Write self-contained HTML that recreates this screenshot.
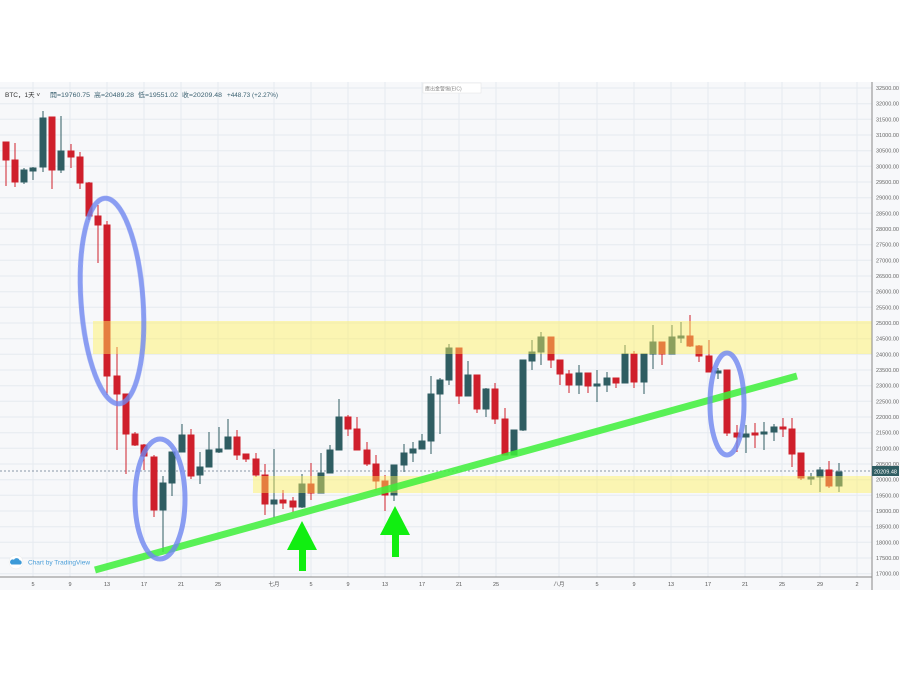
<!DOCTYPE html>
<html><head><meta charset="utf-8"><style>
html,body{margin:0;padding:0;background:#fff;width:900px;height:675px;overflow:hidden}
svg{display:block}
text{font-family:"Liberation Sans","Noto Sans CJK SC",sans-serif}
</style></head><body>
<svg width="900" height="675" viewBox="0 0 900 675" xmlns="http://www.w3.org/2000/svg">
<rect x="0" y="82" width="900" height="508" fill="#f7f8fa"/>
<g stroke="#e6eaf0" stroke-width="1">
<line x1="0" y1="88" x2="872" y2="88"/><line x1="0" y1="103.7" x2="872" y2="103.7"/><line x1="0" y1="119.3" x2="872" y2="119.3"/><line x1="0" y1="135" x2="872" y2="135"/><line x1="0" y1="150.7" x2="872" y2="150.7"/><line x1="0" y1="166.3" x2="872" y2="166.3"/><line x1="0" y1="182" x2="872" y2="182"/><line x1="0" y1="197.7" x2="872" y2="197.7"/><line x1="0" y1="213.3" x2="872" y2="213.3"/><line x1="0" y1="229" x2="872" y2="229"/><line x1="0" y1="244.7" x2="872" y2="244.7"/><line x1="0" y1="260.3" x2="872" y2="260.3"/><line x1="0" y1="276" x2="872" y2="276"/><line x1="0" y1="291.7" x2="872" y2="291.7"/><line x1="0" y1="307.3" x2="872" y2="307.3"/><line x1="0" y1="323" x2="872" y2="323"/><line x1="0" y1="338.7" x2="872" y2="338.7"/><line x1="0" y1="354.3" x2="872" y2="354.3"/><line x1="0" y1="370" x2="872" y2="370"/><line x1="0" y1="385.7" x2="872" y2="385.7"/><line x1="0" y1="401.3" x2="872" y2="401.3"/><line x1="0" y1="417" x2="872" y2="417"/><line x1="0" y1="432.7" x2="872" y2="432.7"/><line x1="0" y1="448.3" x2="872" y2="448.3"/><line x1="0" y1="464" x2="872" y2="464"/><line x1="0" y1="479.7" x2="872" y2="479.7"/><line x1="0" y1="495.3" x2="872" y2="495.3"/><line x1="0" y1="511" x2="872" y2="511"/><line x1="0" y1="526.7" x2="872" y2="526.7"/><line x1="0" y1="542.3" x2="872" y2="542.3"/><line x1="0" y1="558" x2="872" y2="558"/><line x1="0" y1="573.7" x2="872" y2="573.7"/>
<line x1="33" y1="82" x2="33" y2="577"/><line x1="70" y1="82" x2="70" y2="577"/><line x1="107" y1="82" x2="107" y2="577"/><line x1="144" y1="82" x2="144" y2="577"/><line x1="181" y1="82" x2="181" y2="577"/><line x1="218" y1="82" x2="218" y2="577"/><line x1="274" y1="82" x2="274" y2="577"/><line x1="311" y1="82" x2="311" y2="577"/><line x1="348" y1="82" x2="348" y2="577"/><line x1="385" y1="82" x2="385" y2="577"/><line x1="422" y1="82" x2="422" y2="577"/><line x1="459" y1="82" x2="459" y2="577"/><line x1="496" y1="82" x2="496" y2="577"/><line x1="559" y1="82" x2="559" y2="577"/><line x1="597" y1="82" x2="597" y2="577"/><line x1="634" y1="82" x2="634" y2="577"/><line x1="671" y1="82" x2="671" y2="577"/><line x1="708" y1="82" x2="708" y2="577"/><line x1="745" y1="82" x2="745" y2="577"/><line x1="782" y1="82" x2="782" y2="577"/><line x1="820" y1="82" x2="820" y2="577"/><line x1="857" y1="82" x2="857" y2="577"/>
</g>
<line x1="0" y1="471" x2="872" y2="471" stroke="#8a98a8" stroke-width="1" stroke-dasharray="2,2"/>

<g id="candles">
<g fill="#cf1f2b" stroke="#cf1f2b" stroke-width="1">
<line x1="6" y1="142" x2="6" y2="186"/><rect x="3" y="142" width="6" height="18"/>
<line x1="15" y1="143" x2="15" y2="187"/><rect x="12" y="160" width="6" height="22"/>
<line x1="52" y1="117" x2="52" y2="189"/><rect x="49" y="117" width="6" height="53"/>
<line x1="71" y1="144" x2="71" y2="168"/><rect x="68" y="151" width="6" height="6"/>
<line x1="80" y1="152" x2="80" y2="189"/><rect x="77" y="157" width="6" height="26"/>
<line x1="89" y1="182" x2="89" y2="220"/><rect x="86" y="183" width="6" height="33"/>
<line x1="98" y1="205" x2="98" y2="263"/><rect x="95" y="216" width="6" height="9"/>
<line x1="107" y1="221" x2="107" y2="395"/><rect x="104" y="225" width="6" height="151"/>
<line x1="117" y1="347" x2="117" y2="450"/><rect x="114" y="376" width="6" height="18"/>
<line x1="126" y1="395" x2="126" y2="474"/><rect x="123" y="394" width="6" height="40"/>
<line x1="135" y1="432" x2="135" y2="446"/><rect x="132" y="434" width="6" height="11"/>
<line x1="144" y1="444" x2="144" y2="470"/><rect x="141" y="445" width="6" height="11"/>
<line x1="154" y1="455" x2="154" y2="517"/><rect x="151" y="457" width="6" height="53"/>
<line x1="191" y1="429" x2="191" y2="479"/><rect x="188" y="435" width="6" height="41"/>
<line x1="237" y1="430" x2="237" y2="460"/><rect x="234" y="437" width="6" height="18"/>
<line x1="246" y1="454" x2="246" y2="462"/><rect x="243" y="454" width="6" height="5"/>
<line x1="256" y1="453" x2="256" y2="477"/><rect x="253" y="459" width="6" height="16"/>
<line x1="265" y1="464" x2="265" y2="515"/><rect x="262" y="475" width="6" height="29"/>
<line x1="283" y1="490" x2="283" y2="509"/><rect x="280" y="500" width="6" height="3"/>
<line x1="293" y1="497" x2="293" y2="512"/><rect x="290" y="501" width="6" height="6"/>
<line x1="311" y1="463" x2="311" y2="500"/><rect x="308" y="484" width="6" height="9"/>
<line x1="348" y1="415" x2="348" y2="436"/><rect x="345" y="417" width="6" height="12"/>
<line x1="357" y1="417" x2="357" y2="450"/><rect x="354" y="429" width="6" height="21"/>
<line x1="367" y1="442" x2="367" y2="466"/><rect x="364" y="450" width="6" height="14"/>
<line x1="376" y1="455" x2="376" y2="490"/><rect x="373" y="464" width="6" height="17"/>
<line x1="385" y1="475" x2="385" y2="511"/><rect x="382" y="481" width="6" height="14"/>
<line x1="459" y1="348" x2="459" y2="404"/><rect x="456" y="348" width="6" height="48"/>
<line x1="477" y1="375" x2="477" y2="413"/><rect x="474" y="375" width="6" height="34"/>
<line x1="495" y1="383" x2="495" y2="424"/><rect x="492" y="389" width="6" height="30"/>
<line x1="505" y1="408" x2="505" y2="455"/><rect x="502" y="419" width="6" height="36"/>
<line x1="551" y1="337" x2="551" y2="368"/><rect x="548" y="337" width="6" height="23"/>
<line x1="560" y1="360" x2="560" y2="385"/><rect x="557" y="360" width="6" height="14"/>
<line x1="569" y1="370" x2="569" y2="393"/><rect x="566" y="374" width="6" height="11"/>
<line x1="588" y1="373" x2="588" y2="393"/><rect x="585" y="373" width="6" height="13"/>
<line x1="616" y1="378" x2="616" y2="388"/><rect x="613" y="378" width="6" height="5"/>
<line x1="634" y1="351" x2="634" y2="388"/><rect x="631" y="354" width="6" height="28"/>
<line x1="662" y1="342" x2="662" y2="365"/><rect x="659" y="342" width="6" height="12"/>
<line x1="690" y1="315" x2="690" y2="347"/><rect x="687" y="336" width="6" height="10"/>
<line x1="699" y1="345" x2="699" y2="362"/><rect x="696" y="346" width="6" height="10"/>
<line x1="709" y1="340" x2="709" y2="372"/><rect x="706" y="356" width="6" height="16"/>
<line x1="727" y1="370" x2="727" y2="436"/><rect x="724" y="370" width="6" height="63"/>
<line x1="737" y1="425" x2="737" y2="452"/><rect x="734" y="433" width="6" height="4"/>
<line x1="755" y1="423" x2="755" y2="448"/><rect x="752" y="433" width="6" height="2"/>
<line x1="783" y1="418" x2="783" y2="437"/><rect x="780" y="427" width="6" height="2"/>
<line x1="792" y1="418" x2="792" y2="467"/><rect x="789" y="429" width="6" height="25"/>
<line x1="801" y1="453" x2="801" y2="480"/><rect x="798" y="453" width="6" height="25"/>
<line x1="829" y1="461" x2="829" y2="488"/><rect x="826" y="470" width="6" height="16"/>
</g>
<g fill="#2f5d62" stroke="#2f5d62" stroke-width="1">
<line x1="24" y1="168" x2="24" y2="184"/><rect x="21" y="170" width="6" height="12"/>
<line x1="33" y1="167" x2="33" y2="180"/><rect x="30" y="168" width="6" height="3"/>
<line x1="43" y1="111" x2="43" y2="172"/><rect x="40" y="118" width="6" height="49"/>
<line x1="61" y1="116" x2="61" y2="173"/><rect x="58" y="151" width="6" height="19"/>
<line x1="163" y1="476" x2="163" y2="552"/><rect x="160" y="483" width="6" height="27"/>
<line x1="172" y1="452" x2="172" y2="496"/><rect x="169" y="452" width="6" height="31"/>
<line x1="182" y1="424" x2="182" y2="452"/><rect x="179" y="435" width="6" height="17"/>
<line x1="200" y1="452" x2="200" y2="484"/><rect x="197" y="467" width="6" height="8"/>
<line x1="209" y1="432" x2="209" y2="467"/><rect x="206" y="450" width="6" height="17"/>
<line x1="219" y1="427" x2="219" y2="453"/><rect x="216" y="449" width="6" height="3"/>
<line x1="228" y1="419" x2="228" y2="449"/><rect x="225" y="437" width="6" height="12"/>
<line x1="274" y1="449" x2="274" y2="518"/><rect x="271" y="500" width="6" height="4"/>
<line x1="302" y1="474" x2="302" y2="508"/><rect x="299" y="484" width="6" height="23"/>
<line x1="321" y1="453" x2="321" y2="493"/><rect x="318" y="473" width="6" height="20"/>
<line x1="330" y1="445" x2="330" y2="473"/><rect x="327" y="450" width="6" height="23"/>
<line x1="339" y1="399" x2="339" y2="450"/><rect x="336" y="417" width="6" height="33"/>
<line x1="394" y1="465" x2="394" y2="501"/><rect x="391" y="465" width="6" height="30"/>
<line x1="404" y1="444" x2="404" y2="472"/><rect x="401" y="453" width="6" height="12"/>
<line x1="413" y1="442" x2="413" y2="462"/><rect x="410" y="449" width="6" height="4"/>
<line x1="422" y1="434" x2="422" y2="449"/><rect x="419" y="441" width="6" height="8"/>
<line x1="431" y1="376" x2="431" y2="454"/><rect x="428" y="394" width="6" height="47"/>
<line x1="440" y1="378" x2="440" y2="434"/><rect x="437" y="380" width="6" height="14"/>
<line x1="449" y1="344" x2="449" y2="385"/><rect x="446" y="348" width="6" height="32"/>
<line x1="468" y1="361" x2="468" y2="396"/><rect x="465" y="375" width="6" height="21"/>
<line x1="486" y1="388" x2="486" y2="417"/><rect x="483" y="389" width="6" height="20"/>
<line x1="514" y1="430" x2="514" y2="455"/><rect x="511" y="430" width="6" height="25"/>
<line x1="523" y1="360" x2="523" y2="431"/><rect x="520" y="360" width="6" height="70"/>
<line x1="532" y1="340" x2="532" y2="370"/><rect x="529" y="352" width="6" height="9"/>
<line x1="541" y1="332" x2="541" y2="365"/><rect x="538" y="337" width="6" height="15"/>
<line x1="579" y1="365" x2="579" y2="394"/><rect x="576" y="373" width="6" height="12"/>
<line x1="597" y1="370" x2="597" y2="402"/><rect x="594" y="384" width="6" height="2"/>
<line x1="607" y1="372" x2="607" y2="392"/><rect x="604" y="378" width="6" height="7"/>
<line x1="625" y1="345" x2="625" y2="383"/><rect x="622" y="354" width="6" height="29"/>
<line x1="644" y1="354" x2="644" y2="394"/><rect x="641" y="354" width="6" height="28"/>
<line x1="653" y1="325" x2="653" y2="369"/><rect x="650" y="342" width="6" height="12"/>
<line x1="672" y1="325" x2="672" y2="354"/><rect x="669" y="337" width="6" height="17"/>
<line x1="681" y1="322" x2="681" y2="343"/><rect x="678" y="336" width="6" height="2"/>
<line x1="718" y1="368" x2="718" y2="379"/><rect x="715" y="371" width="6" height="2"/>
<line x1="746" y1="425" x2="746" y2="453"/><rect x="743" y="434" width="6" height="3"/>
<line x1="764" y1="422" x2="764" y2="450"/><rect x="761" y="432" width="6" height="2"/>
<line x1="774" y1="424" x2="774" y2="441"/><rect x="771" y="427" width="6" height="5"/>
<line x1="811" y1="473" x2="811" y2="485"/><rect x="808" y="477" width="6" height="2"/>
<line x1="820" y1="467" x2="820" y2="492"/><rect x="817" y="470" width="6" height="7"/>
<line x1="839" y1="463" x2="839" y2="492"/><rect x="836" y="472" width="6" height="14"/>
</g>
</g>

<rect x="93" y="321" width="779" height="33" fill="#fff25a" opacity="0.45"/>
<rect x="253" y="476" width="619" height="17" fill="#fff25a" opacity="0.45"/>

<line x1="95" y1="570" x2="797" y2="376" stroke="#3ef03a" stroke-width="7" opacity="0.85"/>

<g fill="none" stroke="#6f86f0" stroke-width="5" opacity="0.8">
<ellipse cx="112" cy="301" rx="31" ry="103" transform="rotate(-4 112 301)"/>
<ellipse cx="160" cy="499" rx="25" ry="60"/>
<ellipse cx="727" cy="404" rx="17" ry="51"/>
</g>

<g fill="#11ee11">
<polygon points="287,550 317,550 302,521"/><rect x="299" y="549" width="7" height="22"/>
<polygon points="380,535 410,535 395,506"/><rect x="392" y="534" width="7" height="23"/>
</g>

<line x1="872" y1="82" x2="872" y2="590" stroke="#888" stroke-width="1"/>
<line x1="0" y1="577" x2="872" y2="577" stroke="#888" stroke-width="1"/>
<g font-size="5.5" fill="#666">
<text x="876" y="90">32500.00</text><text x="876" y="105.7">32000.00</text><text x="876" y="121.3">31500.00</text><text x="876" y="137">31000.00</text><text x="876" y="152.7">30500.00</text><text x="876" y="168.3">30000.00</text><text x="876" y="184">29500.00</text><text x="876" y="199.7">29000.00</text><text x="876" y="215.3">28500.00</text><text x="876" y="231">28000.00</text><text x="876" y="246.7">27500.00</text><text x="876" y="262.3">27000.00</text><text x="876" y="278">26500.00</text><text x="876" y="293.7">26000.00</text><text x="876" y="309.3">25500.00</text><text x="876" y="325">25000.00</text><text x="876" y="340.7">24500.00</text><text x="876" y="356.3">24000.00</text><text x="876" y="372">23500.00</text><text x="876" y="387.7">23000.00</text><text x="876" y="403.3">22500.00</text><text x="876" y="419">22000.00</text><text x="876" y="434.7">21500.00</text><text x="876" y="450.3">21000.00</text><text x="876" y="466">20500.00</text><text x="876" y="481.7">20000.00</text><text x="876" y="497.3">19500.00</text><text x="876" y="513">19000.00</text><text x="876" y="528.7">18500.00</text><text x="876" y="544.3">18000.00</text><text x="876" y="560">17500.00</text><text x="876" y="575.7">17000.00</text>
</g>
<rect x="872" y="466" width="27" height="10" fill="#2f5d62"/>
<text x="874" y="473.5" font-size="5.5" fill="#fff">20209.48</text>
<g font-size="5.5" fill="#555" text-anchor="middle">
<text x="33" y="586">5</text><text x="70" y="586">9</text><text x="107" y="586">13</text><text x="144" y="586">17</text><text x="181" y="586">21</text><text x="218" y="586">25</text><text x="274" y="586">七月</text><text x="311" y="586">5</text><text x="348" y="586">9</text><text x="385" y="586">13</text><text x="422" y="586">17</text><text x="459" y="586">21</text><text x="496" y="586">25</text><text x="559" y="586">八月</text><text x="597" y="586">5</text><text x="634" y="586">9</text><text x="671" y="586">13</text><text x="708" y="586">17</text><text x="745" y="586">21</text><text x="782" y="586">25</text><text x="820" y="586">29</text><text x="857" y="586">2</text>
</g>

<text x="5" y="97" font-size="6.5" fill="#333">BTC，1天 ˅</text>
<g font-size="6.5" fill="#3a6070">
<text x="50" y="97" textLength="40" lengthAdjust="spacingAndGlyphs">開=19760.75</text>
<text x="94" y="97" textLength="40" lengthAdjust="spacingAndGlyphs">高=20489.28</text>
<text x="138" y="97" textLength="40" lengthAdjust="spacingAndGlyphs">低=19551.02</text>
<text x="182" y="97" textLength="40" lengthAdjust="spacingAndGlyphs">收=20209.48</text>
<text x="227" y="97" textLength="51" lengthAdjust="spacingAndGlyphs">+448.73 (+2.27%)</text>
</g>
<rect x="423" y="83" width="58" height="10" fill="#fff" stroke="#e0e0e0" stroke-width="0.5"/>
<text x="425" y="90.5" font-size="5" fill="#888">應出金警惕(EIC)</text>

<circle cx="16" cy="562" r="7" fill="#fff" stroke="#e8e8e8" stroke-width="0.5"/>
<path d="M11.5,564.5 h9 a2.3,2.3 0 0 0 -1,-4.3 a3,3 0 0 0 -5.5,-0.5 a2.3,2.3 0 0 0 -2.5,4.8z" fill="#3d9ad8"/>
<text x="28" y="564.5" font-size="6.5" fill="#4a9ed8">Chart by TradingView</text>
</svg>
</body></html>
